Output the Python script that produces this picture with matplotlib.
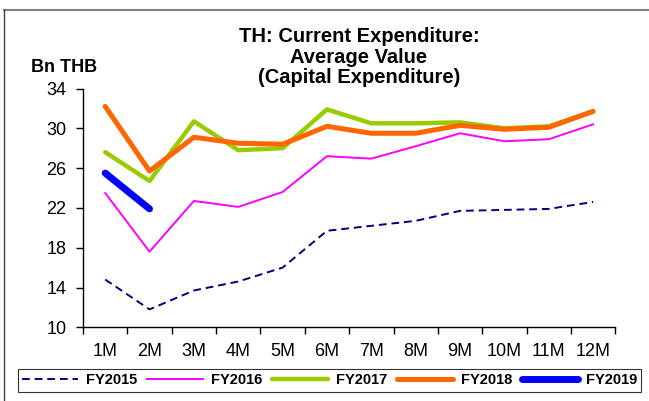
import matplotlib
matplotlib.use("Agg")
import matplotlib.pyplot as plt
from matplotlib.lines import Line2D

plt.rcParams['font.family'] = ['Liberation Sans', 'DejaVu Sans']

months = ['1M', '2M', '3M', '4M', '5M', '6M', '7M', '8M', '9M', '10M', '11M', '12M']
fy2015 = [14.8, 11.8, 13.7, 14.6, 16.0, 19.7, 20.2, 20.7, 21.7, 21.8, 21.9, 22.6]
fy2016 = [23.5, 17.6, 22.7, 22.1, 23.6, 27.2, 26.95, 28.2, 29.5, 28.7, 28.9, 30.4]
fy2017 = [27.6, 24.7, 30.7, 27.8, 28.0, 31.9, 30.5, 30.5, 30.6, 30.0, 30.2, 31.7]
fy2018 = [32.2, 25.7, 29.1, 28.5, 28.4, 30.2, 29.5, 29.5, 30.3, 29.9, 30.1, 31.7]
fy2019 = [25.5, 21.9]
yticks = [10, 14, 18, 22, 26, 30, 34]
title_lines = ['TH: Current Expenditure:', 'Average Value', '(Capital Expenditure)']

W, H = 649, 401
fig = plt.figure(figsize=(W/100, H/100), dpi=100)
ax = fig.add_axes([83/W, 1-327.3/H, (615.3-83)/W, (327.3-88.5)/H])

x = list(range(1, 13))
ax.plot(x, fy2015, color='#000080', lw=1.4, ls=(0, (4, 2.5)), label='FY2015')
ax.plot(x, fy2016, color='#FF00FF', lw=1.4, label='FY2016')
ax.plot(x, fy2017, color='#99CC00', lw=3.2, label='FY2017', solid_capstyle='round')
ax.plot(x, fy2018, color='#FF6600', lw=3.6, label='FY2018', solid_capstyle='round')
ax.plot(x[:len(fy2019)], fy2019, color='#0000FF', lw=5, label='FY2019', solid_capstyle='round')

ax.set_xlim(0.5, 12.5)
ax.set_ylim(10, 34)
ax.set_yticks(yticks)
ax.set_yticklabels([str(v) for v in yticks], fontsize=13)
ax.set_xticks(x)
ax.set_xticklabels(months, fontsize=13)
ax.set_xticks([i + 0.5 for i in range(0, 13)], minor=True)
ax.tick_params(axis='x', which='major', length=0, pad=11)
ax.tick_params(axis='x', which='minor', length=5, width=1, direction='out')
ax.tick_params(axis='y', length=5, width=1, direction='out', pad=7)
for s in ['top', 'right']:
    ax.spines[s].set_visible(False)
for s in ['left', 'bottom']:
    ax.spines[s].set_linewidth(1)
    ax.spines[s].set_color('black')

for txt, yb in zip(title_lines, [42, 63, 83]):
    fig.text(359/W, 1-yb/H, txt, ha='center', va='baseline', fontsize=14.5, fontweight='bold')
fig.text(31/W, 1-72/H, 'Bn THB', ha='left', va='baseline', fontsize=13, fontweight='bold')

# outer border
fig.add_artist(Line2D([4/W, 1], [1-10/H, 1-10/H], color='#808080', lw=1.5, transform=fig.transFigure))
fig.add_artist(Line2D([4/W, 4/W], [1-10/H, 0], color='#404040', lw=1, transform=fig.transFigure))

leg = fig.legend(loc='center', bbox_to_anchor=(329.5/W, 1-380.5/H), ncol=5, frameon=True,
                 fancybox=False, edgecolor='black', handlelength=3.85,
                 columnspacing=0.65, handletextpad=0.55, borderpad=0.3, borderaxespad=0,
                 prop={'weight': 'bold', 'size': 10.5})
leg.get_frame().set_linewidth(0.8)

fig.savefig('out.png', dpi=100)
